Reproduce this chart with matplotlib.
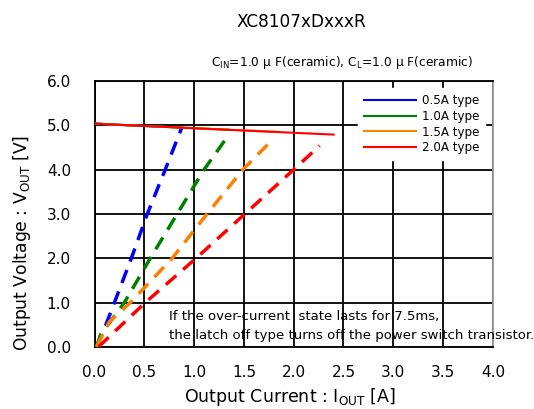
import matplotlib
matplotlib.use("Agg")
import matplotlib.pyplot as plt

plt.rcParams['font.family'] = ['DejaVu Sans']
plt.rcParams['mathtext.fontset'] = 'dejavusans'
plt.rcParams['mathtext.default'] = 'regular'

types = ['0.5A type', '1.0A type', '1.5A type', '2.0A type']
colors = ['#0000ff', '#008000', '#ff7f00', '#ff0000']

# normal operation (solid)
solid_i = [[0.0, 0.15, 0.88],
           [0.0, 0.15, 1.35],
           [0.0, 0.15, 1.85],
           [0.0, 0.15, 2.40]]
solid_v = [[5.04, 5.02, 4.95],
           [5.04, 5.02, 4.90],
           [5.04, 5.02, 4.85],
           [5.04, 5.02, 4.79]]

# foldback (dashed)
fold_i = [[0.02, 0.08, 0.20, 0.37, 0.53, 0.71, 0.875],
          [0.02, 0.06, 0.30, 0.56, 0.83, 1.10, 1.34],
          [0.02, 0.15, 0.36, 0.78, 1.13, 1.49, 1.78],
          [0.04, 0.51, 1.02, 1.51, 2.00, 2.26]]
fold_v = [[0.0, 0.30, 1.0, 2.0, 3.0, 4.0, 4.94],
          [0.0, 0.27, 1.0, 2.0, 3.0, 4.0, 4.76],
          [0.0, 0.57, 1.0, 2.0, 3.0, 4.0, 4.66],
          [0.0, 1.0, 2.0, 3.0, 4.0, 4.54]]

x_ticks = [0.0, 0.5, 1.0, 1.5, 2.0, 2.5, 3.0, 3.5, 4.0]
y_ticks = [0.0, 1.0, 2.0, 3.0, 4.0, 5.0, 6.0]

fig = plt.figure(figsize=(5.34, 4.09), dpi=100)
ax = fig.add_axes([0.177, 0.152, 0.746, 0.650])

for k in range(len(types)):
    ax.plot(fold_i[k], fold_v[k], color=colors[k], lw=2.5,
            linestyle=(0, (4, 2.6)), zorder=3)
for k in range(len(types)):
    ax.plot(solid_i[k], solid_v[k], color=colors[k], lw=1.5,
            label=types[k], zorder=4)

ax.set_xlim(0, 4)
ax.set_ylim(0, 6)
ax.set_xticks(x_ticks)
ax.set_yticks(y_ticks)
ax.set_xticklabels(['%.1f' % t for t in x_ticks])
ax.set_yticklabels(['%.1f' % t for t in y_ticks])
ax.tick_params(length=0, labelsize=11)
ax.tick_params(axis='x', pad=13)
ax.tick_params(axis='y', pad=17)
ax.grid(True, color='black', lw=1.3)
for s in ax.spines.values():
    s.set_linewidth(1.3)
ax.spines['right'].set_color('#999999')

ax.set_xlabel('Output Current : $I_{OUT}$ [A]', fontsize=12.5)
ax.set_ylabel('Output Voltage : $V_{OUT}$ [V]', fontsize=12.3)
ax.xaxis.set_label_coords(0.49, -0.188)
ax.yaxis.set_label_coords(-0.182, 0.39)
ax.xaxis.label.set_va('center')
ax.yaxis.label.set_va('center')

leg = ax.legend(loc='upper right', bbox_to_anchor=(0.995, 0.995), fontsize=8.6,
                frameon=True, fancybox=False, handlelength=4.3,
                labelspacing=0.22, borderpad=0.5, handletextpad=0.5)
leg.get_frame().set_edgecolor('white')
leg.get_frame().set_alpha(1)

ax.text(0.187, 0.079, 'If the over-current  state lasts for 7.5ms,\n'
        'the latch off type turns off the power switch transistor.',
        transform=ax.transAxes, fontsize=9.5, linespacing=1.55, va='center')

fig.text(0.564, 0.946, 'XC8107xDxxxR', fontsize=12.2, ha='center', va='center')
fig.text(0.886, 0.846, '$C_{IN}$=1.0 μ F(ceramic), $C_L$=1.0 μ F(ceramic)',
         fontsize=8.8, ha='right', va='center')

fig.savefig('out.png', dpi=100)
